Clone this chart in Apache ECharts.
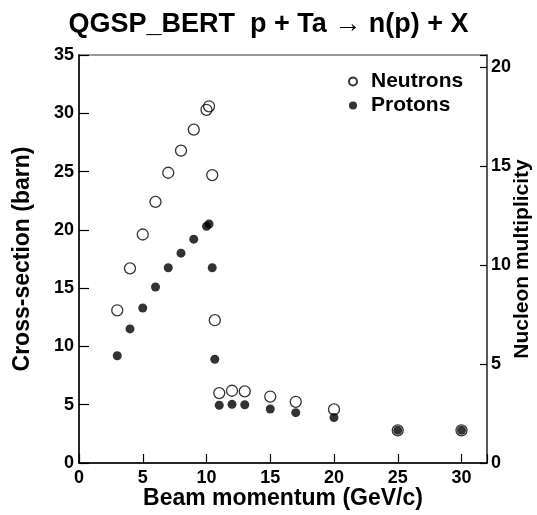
<!DOCTYPE html>
<html>
<head>
<meta charset="utf-8">
<script src="https://cdn.jsdelivr.net/npm/echarts@6/dist/echarts.min.js"></script>
<style>
  html, body { margin: 0; padding: 0; background: #fff; }
  #chart { width: 537px; height: 515px; }
</style>
</head>
<body>
<div id="chart"></div>
<script>
// beam momentum (GeV/c) of each point
let momentum = [3, 4, 5, 6, 7, 8, 9, 10, 10.2, 10.45, 10.65, 11, 12, 13, 15, 17, 20, 25, 30];
// cross-section (barn)
let neutronValues = [13.1, 16.7, 19.6, 22.4, 24.9, 26.8, 28.6, 30.3, 30.6, 24.7, 12.25, 6.0, 6.2, 6.15, 5.7, 5.25, 4.6, 2.8, 2.8];
let protonValues = [9.2, 11.5, 13.3, 15.1, 16.75, 18.0, 19.2, 20.3, 20.5, 16.75, 8.9, 4.95, 5.03, 5.0, 4.63, 4.32, 3.9, 2.8, 2.8];

const FONT = "'Liberation Sans', Arial, Helvetica, sans-serif";

function pairs(xs, ys) {
  let out = [];
  for (let i = 0; i < xs.length; i++) {
    out.push([xs[i], ys[i]]);
  }
  return out;
}

// only label the multiples of 5 (hides the extra tick at the axis max)
function onlyFives(v) {
  return v % 5 === 0 ? String(v) : '';
}

let chart = echarts.init(document.getElementById('chart'));

let option = {
  animation: false,
  backgroundColor: '#fff',
  title: {
    text: 'QGSP_BERT  p + Ta \u2192 n(p) + X',
    left: 'center',
    top: 6,
    textStyle: { fontFamily: FONT, fontWeight: 'bold', fontSize: 27, color: '#000' }
  },
  legend: {
    orient: 'vertical',
    left: 343,
    top: 66,
    itemWidth: 8,
    itemHeight: 8,
    itemGap: 3,
    icon: 'circle',
    textStyle: { fontFamily: FONT, fontWeight: 'bold', fontSize: 21, color: '#000', padding: [0, 0, 0, 9] },
    data: ['Neutrons', 'Protons']
  },
  grid: {
    left: 79,
    right: 50,
    top: 55,
    bottom: 52,
    outerBoundsMode: 'none',
    containLabel: false,
    show: true,
    borderColor: '#777',
    borderWidth: 1.5,
    backgroundColor: 'transparent'
  },
  xAxis: {
    type: 'value',
    min: 0,
    max: 32,
    interval: 5,
    name: 'Beam momentum (GeV/c)',
    nameLocation: 'middle',
    nameGap: 24,
    nameMoveOverlap: false,
    nameTextStyle: { fontFamily: FONT, fontWeight: 'bold', fontSize: 23, color: '#000' },
    axisLine: { lineStyle: { color: '#000', width: 1.5 } },
    axisTick: { inside: true, length: 9, lineStyle: { color: '#000', width: 1.2 } },
    axisLabel: { margin: 6, formatter: onlyFives, fontFamily: FONT, fontWeight: 'bold', fontSize: 18, color: '#000' },
    splitLine: { show: false }
  },
  yAxis: [
    {
      type: 'value',
      min: 0,
      max: 35,
      interval: 5,
      name: 'Cross-section (barn)',
      nameLocation: 'middle',
      nameGap: 45,
      nameMoveOverlap: false,
      nameTextStyle: { fontFamily: FONT, fontWeight: 'bold', fontSize: 23, color: '#000' },
      axisLine: { show: true, lineStyle: { color: '#000', width: 1.5 } },
      axisTick: { show: true, inside: true, length: 10, lineStyle: { color: '#000', width: 1.2 } },
      axisLabel: { margin: 5, fontFamily: FONT, fontWeight: 'bold', fontSize: 18, color: '#000' },
      splitLine: { show: false }
    },
    {
      type: 'value',
      position: 'right',
      min: 0,
      max: 20.6,
      interval: 5,
      name: 'Nucleon multiplicity',
      nameLocation: 'middle',
      nameRotate: 90,
      nameGap: 25,
      nameMoveOverlap: false,
      nameTextStyle: { fontFamily: FONT, fontWeight: 'bold', fontSize: 21, color: '#000' },
      axisLine: { show: true, lineStyle: { color: '#444', width: 1.5 } },
      axisTick: { show: true, inside: true, length: 7, lineStyle: { color: '#000', width: 1.2 } },
      axisLabel: { margin: 4, formatter: onlyFives, fontFamily: FONT, fontWeight: 'bold', fontSize: 18, color: '#000' },
      splitLine: { show: false }
    }
  ],
  series: [
    {
      name: 'Protons',
      type: 'scatter',
      yAxisIndex: 0,
      symbol: 'circle',
      symbolSize: 9,
      itemStyle: { color: '#000' },
      data: pairs(momentum, protonValues)
    },
    {
      name: 'Neutrons',
      type: 'scatter',
      yAxisIndex: 0,
      symbol: 'circle',
      symbolSize: 11,
      z: 3,
      itemStyle: { color: 'transparent', borderColor: '#000', borderWidth: 1.3 },
      data: pairs(momentum, neutronValues)
    }
  ]
};

chart.setOption(option);
</script>
</body>
</html>
